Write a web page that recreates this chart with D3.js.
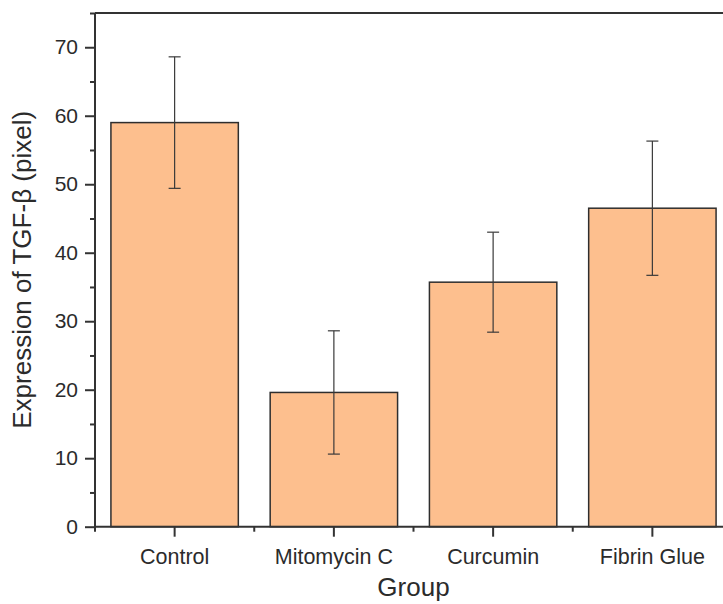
<!DOCTYPE html>
<html>
<head>
<meta charset="utf-8">
<script src="https://cdn.jsdelivr.net/npm/d3@7"></script>
<style>
  html, body { margin: 0; padding: 0; background: #fff; }
  svg { display: block; }
  text { font-family: "Liberation Sans", Arial, sans-serif; fill: #2b2b2b; }
</style>
</head>
<body>
<svg id="chart" width="723" height="604"></svg>
<script>
const categories = ["Control", "Mitomycin C", "Curcumin", "Fibrin Glue"];
const values = [59.0, 19.6, 35.7, 46.5];
const errors = [9.6, 9.0, 7.3, 9.8];
const yTicks = [0, 10, 20, 30, 40, 50, 60, 70];
const yMinorTicks = [5, 15, 25, 35, 45, 55, 65, 75];
const xLabel = "Group";
const yLabel = "Expression of TGF-β (pixel)";

(function () {
const svg = d3.select("#chart");
const mLeft = 95, mRight = 732, mTop = 13, mBottom = 526.7;

const x = d3.scaleBand().domain(categories).range([mLeft, mRight]).paddingInner(0.2).paddingOuter(0.1);
const y = d3.scaleLinear().domain([0, 75]).range([mBottom, mTop]);
const axisColor = "#333";

// bars
const data = categories.map((c, i) => ({ c, v: values[i], e: errors[i] }));
svg.append("g").selectAll("rect").data(data).join("rect")
  .attr("x", d => x(d.c))
  .attr("y", d => y(d.v))
  .attr("width", x.bandwidth())
  .attr("height", d => y(0) - y(d.v))
  .attr("fill", "#FDBF8E")
  .attr("stroke", "#2e2e2e")
  .attr("stroke-width", 1.5);

// error bars
const eg = svg.append("g").attr("stroke", "#3a3a3a").attr("stroke-width", 1.2);
data.forEach(d => {
  const cx = x(d.c) + x.bandwidth() / 2;
  eg.append("line").attr("x1", cx).attr("x2", cx).attr("y1", y(d.v + d.e)).attr("y2", y(d.v - d.e));
  [d.v + d.e, d.v - d.e].forEach(v => {
    eg.append("line").attr("x1", cx - 6).attr("x2", cx + 6).attr("y1", y(v)).attr("y2", y(v));
  });
});

// top border
svg.append("line").attr("x1", mLeft).attr("x2", mRight).attr("y1", mTop).attr("y2", mTop)
  .attr("stroke", axisColor).attr("stroke-width", 2);

// y axis major
const yAxis = svg.append("g").attr("transform", `translate(${mLeft},0)`)
  .call(d3.axisLeft(y).tickValues(yTicks).tickSize(10).tickPadding(7).tickSizeOuter(0));
yAxis.select(".domain").attr("stroke", axisColor).attr("stroke-width", 2)
  .attr("d", `M0,${mTop}V${mBottom + 1}`);
yAxis.selectAll(".tick line").attr("stroke", axisColor).attr("stroke-width", 2);
yAxis.selectAll(".tick text").attr("font-size", 21).attr("fill", "#2b2b2b")
  .style("font-family", "'Liberation Sans', Arial, sans-serif");
// y axis minor
svg.append("g").attr("transform", `translate(${mLeft},0)`)
  .call(d3.axisLeft(y).tickValues(yMinorTicks).tickSize(5).tickFormat(""))
  .call(g => g.select(".domain").remove())
  .selectAll(".tick line").attr("stroke", axisColor).attr("stroke-width", 2);

// x axis
const xAxis = svg.append("g").attr("transform", `translate(0,${mBottom})`)
  .call(d3.axisBottom(x).tickSize(10).tickPadding(12).tickSizeOuter(0));
xAxis.select(".domain").attr("stroke", axisColor).attr("stroke-width", 2)
  .attr("d", `M${mLeft - 1},0H${mRight}`);
xAxis.selectAll(".tick line").attr("stroke", axisColor).attr("stroke-width", 2);
xAxis.selectAll(".tick text").attr("font-size", 21.5).attr("fill", "#2b2b2b")
  .style("font-family", "'Liberation Sans', Arial, sans-serif");

// x minor ticks at category boundaries
const step = x.step();
const bounds = d3.range(categories.length + 1).map(i => x(categories[0]) + x.bandwidth() / 2 - step / 2 + i * step);
svg.append("g").selectAll("line").data(bounds).join("line")
  .attr("x1", d => d).attr("x2", d => d)
  .attr("y1", mBottom).attr("y2", mBottom + 5)
  .attr("stroke", axisColor).attr("stroke-width", 2);

// axis titles
svg.append("text").attr("x", (mLeft + mRight) / 2).attr("y", 596)
  .attr("text-anchor", "middle").attr("font-size", 26).text(xLabel);
svg.append("text")
  .attr("transform", `translate(31,${(mTop + mBottom) / 2}) rotate(-90)`)
  .attr("text-anchor", "middle").attr("font-size", 26).text(yLabel);
})();
</script>
</body>
</html>
